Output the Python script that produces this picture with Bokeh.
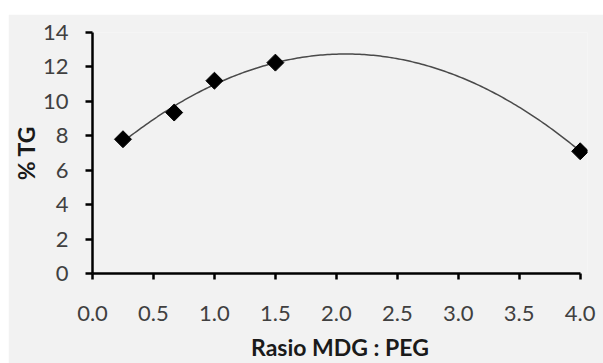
import numpy as np
from bokeh.plotting import figure
from bokeh.layouts import column, row
from bokeh.models import Spacer, FixedTicker, CustomJSTickFormatter
from bokeh.embed import file_html
from bokeh.resources import INLINE

# data
ratio = [0.25, 0.67, 1.0, 1.5, 4.0]
tg = [7.8, 9.35, 11.2, 12.25, 7.1]
x_ticks = [0.0, 0.5, 1.0, 1.5, 2.0, 2.5, 3.0, 3.5, 4.0]
y_ticks = [0, 2, 4, 6, 8, 10, 12, 14]

# order-2 polynomial trendline through the data (like Excel)
coef = np.polyfit(ratio, tg, 2)
xs = np.linspace(min(ratio), max(ratio), 200)
ys = np.polyval(coef, xs)

BG = "#f2f2f2"
p = figure(width=595, height=349, x_range=(0, 4.06), y_range=(0, 14),
           output_backend="svg", toolbar_location=None,
           background_fill_color=BG, border_fill_color=BG,
           min_border_left=82, min_border_right=16,
           min_border_top=18, min_border_bottom=90)
p.outline_line_color = None
p.grid.visible = False

p.line(xs, ys, line_color="#4a4a4a", line_width=1.5)
p.scatter(ratio, tg, marker="square", size=12, angle=np.pi / 4,
          fill_color="black", line_color="black")

for ax in (p.xaxis[0], p.yaxis[0]):
    ax.axis_line_color = "black"
    ax.axis_line_width = 2.5
    ax.major_tick_line_color = "black"
    ax.major_tick_line_width = 2.5
    ax.major_tick_in = 0
    ax.major_tick_out = 6
    ax.minor_tick_line_color = None
    ax.major_label_text_font = "Lato"
    ax.major_label_text_font_size = "22px"
    ax.major_label_text_color = "#404040"
    ax.axis_label_text_font = "Lato"
    ax.axis_label_text_font_style = "bold"
    ax.axis_label_text_font_size = "23px"
    ax.axis_label_text_color = "#1a1a1a"

p.xaxis.ticker = FixedTicker(ticks=x_ticks)
p.xaxis.bounds = (0, 4)
p.xaxis.formatter = CustomJSTickFormatter(code="return tick.toFixed(1);")
p.yaxis.ticker = FixedTicker(ticks=y_ticks)
p.xaxis.axis_label = "Rasio MDG : PEG"
p.yaxis.axis_label = "% TG"
p.xaxis.major_label_standoff = 26
p.xaxis.axis_label_standoff = 9
p.yaxis.major_label_standoff = 17
p.yaxis.axis_label_standoff = 0
p.yaxis.major_tick_out = 7

layout = column(Spacer(height=14, width=603), row(Spacer(width=8, height=349), p))
open("out.html", "w").write(file_html(layout, INLINE))
